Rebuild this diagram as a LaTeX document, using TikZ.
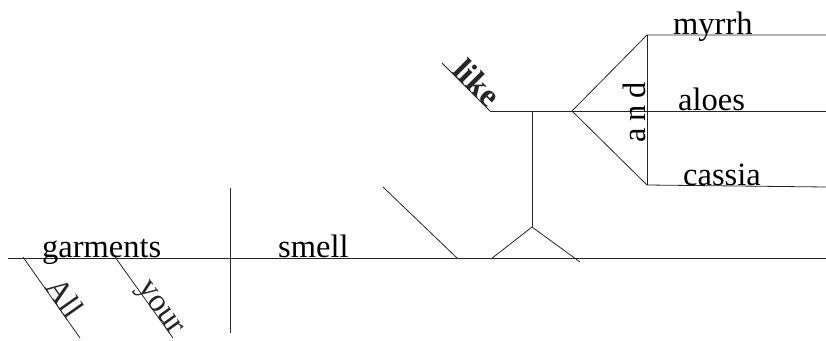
\documentclass[tikz,border=0pt]{standalone}
\usepackage{fontspec}
\setmainfont{Liberation Serif}
\begin{document}
\begin{tikzpicture}[x=1pt,y=-1pt,
  rule/.style={line width=0.8pt, black!85},
  word/.style={inner sep=0pt, font=\fontsize{32.5}{32.5}\selectfont},
  slantword/.style={word, sloped, anchor=base}]
\useasboundingbox (0,0) rectangle (826,340);

% subject and predicate baseline with divider
\coordinate (baseL) at (8,258);
\coordinate (baseR) at (826,258);
\coordinate (divT) at (230,188);
\coordinate (divB) at (230,333);
\draw[rule] (baseL) -- (baseR);
\draw[rule] (divT) -- (divB);
\node[word, anchor=base west] (garments) at (42,257) {garments};
\node[word, anchor=base west] (smell) at (278,257) {smell};

% modifiers of the subject
\coordinate (allA) at (23,257);
\coordinate (allB) at (80,338);
\draw[rule] (allA) -- node[slantword, pos=0.58] (all) {All} (allB);
\coordinate (yourA) at (115,257);
\coordinate (yourB) at (173,338);
\draw[rule] (yourA) -- node[slantword, pos=0.68] (your) {your} (yourB);

% prepositional phrase on a pedestal
\coordinate (likeA) at (442,63);
\coordinate (likeB) at (490,111);
\coordinate (slantA) at (383,187);
\coordinate (slantB) at (457,258);
\draw[rule] (slantA) -- (slantB);
\draw[rule] (likeA) -- node[slantword, pos=0.57, font=\fontsize{32.5}{32.5}\selectfont\bfseries] (like) {like} (likeB);
\coordinate (objR) at (826,111);
\draw[rule] (likeB) -- (objR);
\coordinate (apex) at (532,227);
\coordinate (legL) at (491,259);
\coordinate (legR) at (580,262);
\coordinate (stemT) at (532,111);
\draw[rule] (legL) -- (apex) -- (legR);
\draw[rule] (apex) -- (stemT);

% compound object joined by "and"
\coordinate (fork) at (572,111);
\coordinate (topL) at (647,35);
\coordinate (topR) at (826,35);
\coordinate (botL) at (647,185);
\coordinate (botR) at (826,187);
\draw[rule] (fork) -- (topL) -- (topR);
\draw[rule] (fork) -- (botL) -- (botR);
\draw[rule] (topL) -- (botL);
\node[word, anchor=base west] (myrrh) at (673,34) {myrrh};
\node[word, anchor=base west] (aloes) at (678,110) {aloes};
\node[word, anchor=base west] (cassia) at (683,185) {cassia};
\node[word, rotate=90, anchor=base] (and) at (645,112.5) {a\hspace{7pt}n\hspace{7pt}d};
\end{tikzpicture}
\end{document}
